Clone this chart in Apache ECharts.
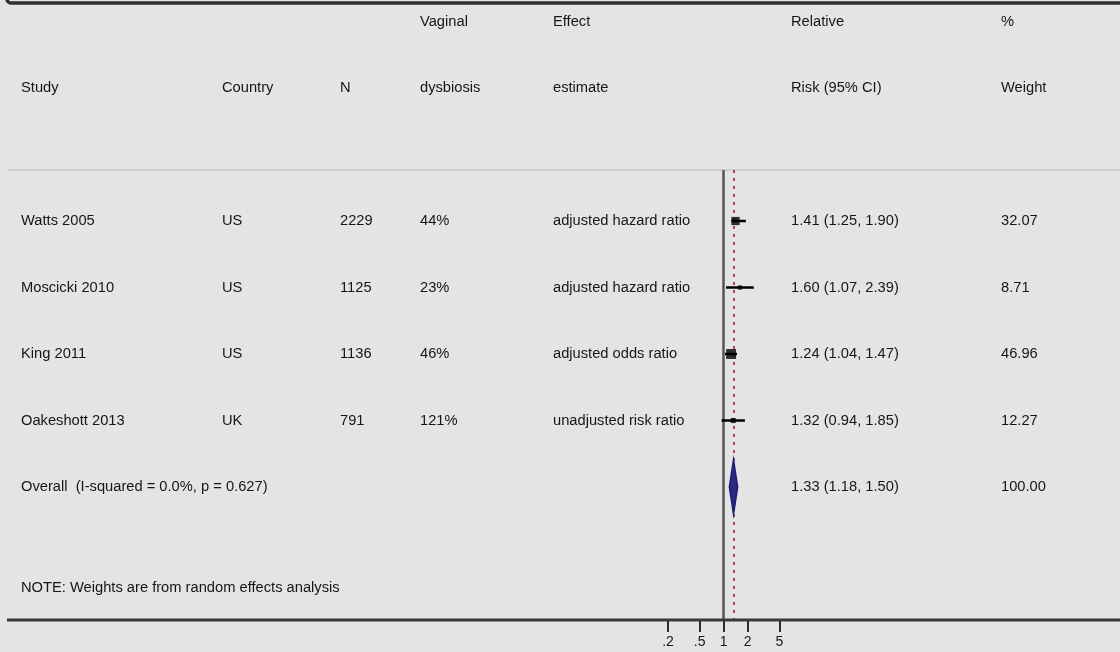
<!DOCTYPE html>
<html>
<head>
<meta charset="utf-8">
<script src="https://cdn.jsdelivr.net/npm/echarts@6/dist/echarts.min.js"></script>
<style>
  html, body { margin: 0; padding: 0; background: #e4e4e4; }
  #chart { width: 1120px; height: 652px; }
</style>
</head>
<body>
<div id="chart"></div>
<script>
// ---------------- data ----------------
const headerLine1 = ['', '', '', 'Vaginal', 'Effect', 'Relative', '%'];
const headerLine2 = ['Study', 'Country', 'N', 'dysbiosis', 'estimate', 'Risk (95% CI)', 'Weight'];
const studies = ['Watts 2005', 'Moscicki 2010', 'King 2011', 'Oakeshott 2013'];
const countries = ['US', 'US', 'US', 'UK'];
const sampleSizes = [2229, 1125, 1136, 791];
const dysbiosis = ['44%', '23%', '46%', '121%'];
const effectTypes = ['adjusted hazard ratio', 'adjusted hazard ratio', 'adjusted odds ratio', 'unadjusted risk ratio'];
const riskRatios = [1.41, 1.60, 1.24, 1.32];
const ciLower = [1.25, 1.07, 1.04, 0.94];
const ciUpper = [1.90, 2.39, 1.47, 1.85];
const weights = [32.07, 8.71, 46.96, 12.27];
const overallLabel = 'Overall  (I-squared = 0.0%, p = 0.627)';
const overallRR = 1.33;
const overallLower = 1.18;
const overallUpper = 1.50;
const overallWeight = 100.00;
const noteText = 'NOTE: Weights are from random effects analysis';
const tickValues = [0.2, 0.5, 1, 2, 5];
const tickLabels = ['.2', '.5', '1', '2', '5'];

// ---------------- layout ----------------
const ROW0 = 154.5, ROWH = 66.5;           // pixel of row 0, pixels per row
const TABLE_BOTTOM = 620, FOREST_TOP = 170;
const colX = [21, 222, 340, 420, 553, 791, 1001];
const NOTE_ROW = 6.52;
const FONT = '14.7px "Liberation Sans", Arial, sans-serif';
const TEXT_COLOR = '#161616';

const fmt2 = v => v.toFixed(2);
const ciText = (e, l, u) => fmt2(e) + ' (' + fmt2(l) + ', ' + fmt2(u) + ')';

// table text items: [x, row, text]
const textItems = [];
headerLine1.forEach((t, i) => { if (t) textItems.push([colX[i], -2, t]); });
headerLine2.forEach((t, i) => { if (t) textItems.push([colX[i], -1, t]); });
studies.forEach((s, i) => {
  const r = i + 1;
  textItems.push([colX[0], r, s]);
  textItems.push([colX[1], r, countries[i]]);
  textItems.push([colX[2], r, String(sampleSizes[i])]);
  textItems.push([colX[3], r, dysbiosis[i]]);
  textItems.push([colX[4], r, effectTypes[i]]);
  textItems.push([colX[5], r, ciText(riskRatios[i], ciLower[i], ciUpper[i])]);
  textItems.push([colX[6], r, fmt2(weights[i])]);
});
const overallRow = studies.length + 1;
textItems.push([colX[0], overallRow, overallLabel]);
textItems.push([colX[5], overallRow, ciText(overallRR, overallLower, overallUpper)]);
textItems.push([colX[6], overallRow, fmt2(overallWeight)]);
textItems.push([colX[0], NOTE_ROW, noteText]);

const ciData = studies.map((s, i) => [ciLower[i], ciUpper[i], i + 1]);
const boxData = studies.map((s, i) => [riskRatios[i], i + 1, weights[i]]);
const diamondData = [[overallLower, overallRR, overallUpper, overallRow]];

const chart = echarts.init(document.getElementById('chart'), null, { renderer: 'canvas' });

const option = {
  backgroundColor: '#e4e4e4',
  animation: false,
  grid: [
    { left: 0, right: 0, top: 0, height: TABLE_BOTTOM, containLabel: false },
    { left: 668, width: 111.3, top: FOREST_TOP, height: TABLE_BOTTOM - FOREST_TOP, containLabel: false }
  ],
  xAxis: [
    { gridIndex: 0, type: 'value', min: 0, max: 1120, show: false },
    {
      gridIndex: 1, type: 'log', logBase: 10, min: 0.2, max: 5,
      axisLine: { show: false },
      splitLine: { show: false },
      axisTick: { show: true, customValues: tickValues, length: 12, inside: false,
                  lineStyle: { color: '#2a2a2a', width: 2 } },
      axisLabel: {
        show: true, customValues: tickValues, margin: 15,
        fontFamily: '"Liberation Sans", Arial, sans-serif', fontSize: 14, color: TEXT_COLOR,
        formatter: function (v) {
          let best = 0;
          tickValues.forEach((t, i) => { if (Math.abs(t - v) < Math.abs(tickValues[best] - v)) best = i; });
          return tickLabels[best];
        }
      }
    }
  ],
  yAxis: [
    { gridIndex: 0, type: 'value', inverse: true, min: -ROW0 / ROWH, max: (TABLE_BOTTOM - ROW0) / ROWH, show: false },
    { gridIndex: 1, type: 'value', inverse: true, min: (FOREST_TOP - ROW0) / ROWH, max: (TABLE_BOTTOM - ROW0) / ROWH, show: false }
  ],
  graphic: [
    { type: 'rect', shape: { x: 7, y: -30, width: 1140, height: 33, r: 4 },
      style: { fill: null, stroke: '#2e2e2e', lineWidth: 3.5 }, z: 10 },
    { type: 'line', shape: { x1: 8, y1: 170, x2: 1120, y2: 170 },
      style: { stroke: '#cdcdcd', lineWidth: 2 }, z: 1 },
    { type: 'line', shape: { x1: 7, y1: 620, x2: 1120, y2: 620 },
      style: { stroke: '#3a3a3a', lineWidth: 3 }, z: 10 }
  ],
  series: [
    {
      type: 'custom', xAxisIndex: 0, yAxisIndex: 0, data: textItems,
      encode: { x: 0, y: 1 }, silent: true,
      renderItem: function (params, api) {
        const p = api.coord([api.value(0), api.value(1)]);
        return { type: 'text', x: p[0], y: p[1],
                 style: { text: textItems[params.dataIndex][2], font: FONT, fill: TEXT_COLOR,
                          align: 'left', verticalAlign: 'middle' } };
      }
    },
    {
      type: 'custom', xAxisIndex: 1, yAxisIndex: 1, data: ciData,
      encode: { x: [0, 1], y: 2 }, z: 5,
      renderItem: function (params, api) {
        const a = api.coord([api.value(0), api.value(2)]);
        const b = api.coord([api.value(1), api.value(2)]);
        return { type: 'line', shape: { x1: a[0], y1: a[1], x2: b[0], y2: b[1] },
                 style: { stroke: '#000', lineWidth: 2.5 } };
      },
      markLine: {
        silent: true, symbol: 'none', label: { show: false }, animation: false,
        data: [
          { xAxis: 1, lineStyle: { color: '#555', width: 2.5, type: 'solid' } },
          { xAxis: overallRR, lineStyle: { color: '#b8404f', width: 2, type: [3, 5] } }
        ]
      }
    },
    {
      type: 'scatter', xAxisIndex: 1, yAxisIndex: 1, data: boxData, z: 6,
      symbol: 'rect',
      symbolSize: function (v) { return 1.45 * Math.sqrt(v[2]); },
      itemStyle: { color: '#000' }
    },
    {
      type: 'custom', xAxisIndex: 1, yAxisIndex: 1, data: diamondData,
      encode: { x: [0, 1, 2], y: 3 }, z: 6,
      renderItem: function (params, api) {
        const r = api.value(3), h = 0.41;
        const l = api.coord([api.value(0), r]);
        const t = api.coord([api.value(1), r - h]);
        const u = api.coord([api.value(2), r]);
        const b = api.coord([api.value(1), r + h]);
        return { type: 'polygon', shape: { points: [l, t, u, b] },
                 style: { fill: '#2a2a85', stroke: '#1c1c70', lineWidth: 1.5 } };
      }
    }
  ]
};
chart.setOption(option);
</script>
</body>
</html>
